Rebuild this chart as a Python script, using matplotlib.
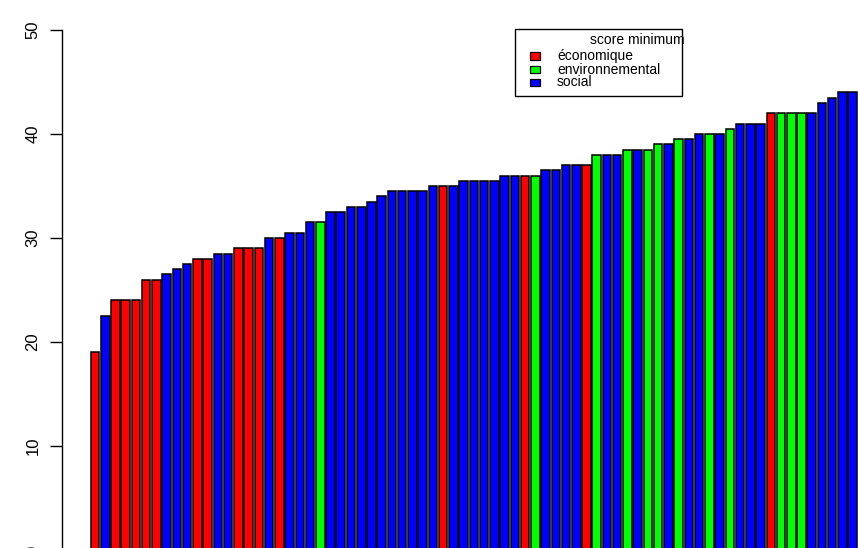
import matplotlib
matplotlib.use("Agg")
from matplotlib import pyplot as plt
from matplotlib.patches import Rectangle

# scores minimum, triés, et dimension correspondante
scores = [19, 22.5, 24, 24, 24, 26, 26, 26.5, 27, 27.5,
          28, 28, 28.5, 28.5, 29, 29, 29, 30, 30, 30.5,
          30.5, 31.5, 31.5, 32.5, 32.5, 33, 33, 33.5, 34, 34.5,
          34.5, 34.5, 34.5, 35, 35, 35, 35.5, 35.5, 35.5, 35.5,
          36, 36, 36, 36, 36.5, 36.5, 37, 37, 37, 38,
          38, 38, 38.5, 38.5, 38.5, 39, 39, 39.5, 39.5, 40,
          40, 40, 40.5, 41, 41, 41, 42, 42, 42, 42,
          42, 43, 43.5, 44, 44]
# couleur de chaque barre (r = économique, g = environnemental, b = social)
dims = ("r b r r r r r b b b r r b b r r r b r b "
        "b b g b b b b b b b b b b b r b b b b b "
        "b b r g b b b b r g b b g b g g b g b b "
        "g b g b b b r g g g b b b b b").split()

legend_labels = ["économique", "environnemental", "social"]
legend_title = "score minimum"
palette = {"r": "#FF0000", "g": "#00FF00", "b": "#0000FF"}

W, H = 858, 548
fig = plt.figure(figsize=(W / 100, H / 100), dpi=100)
ax = fig.add_axes([62 / W, -2 / H, 1 - 62 / W, (550 - 30) / H])

xpos = [i * 1.2 for i in range(len(scores))]
ax.bar(xpos, scores, width=1.0, color=[palette[d] for d in dims],
       edgecolor="black", linewidth=1.1)

ax.set_xlim(-3.87, 89.42)
ax.set_ylim(0, 50)
for s in ["top", "right", "bottom"]:
    ax.spines[s].set_visible(False)
ax.spines["left"].set_bounds(0, 50)
ax.spines["left"].set_linewidth(1.0)
ax.set_xticks([])
ax.set_yticks([0, 10, 20, 30, 40, 50])
ax.tick_params(axis="y", length=8.5, width=1.0, pad=7, labelsize=12,
               labelrotation=90)
for lab in ax.get_yticklabels():
    lab.set_fontfamily("Liberation Sans")
    lab.set_va("center")

# légende dessinée à la main, le titre déborde comme dans R
fig.patches.append(Rectangle((515 / W, 1 - 96 / H), (682 - 515) / W, (96 - 29) / H,
                             transform=fig.transFigure, fill=False,
                             edgecolor="black", linewidth=1.0))
fig.text(637 / W, 1 - 40 / H, legend_title, ha="center", va="center",
         fontsize=10, family="Liberation Sans")
rows = [56, 69.5, 82.5]
for lab, key, yy in zip(legend_labels, ["r", "g", "b"], rows):
    fig.patches.append(Rectangle((530 / W, 1 - (yy + 3.5) / H), 10 / W, 7 / H,
                                 transform=fig.transFigure,
                                 facecolor=palette[key], edgecolor="black",
                                 linewidth=0.9))
    fig.text(557 / W, 1 - yy / H, lab, ha="left", va="center",
             fontsize=10, family="Liberation Sans")

fig.savefig("out.png", dpi=100)
